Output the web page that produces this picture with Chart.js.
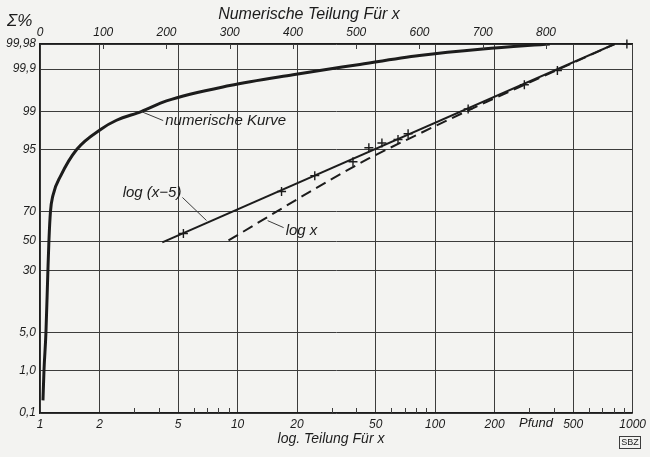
<!DOCTYPE html>
<html>
<head>
<meta charset="utf-8">
<script src="https://cdn.jsdelivr.net/npm/chart.js@4.4.1/dist/chart.umd.min.js"></script>
<style>
  html, body { margin: 0; padding: 0; background: #f3f3f1; }
  #wrap { width: 650px; height: 457px; }
</style>
</head>
<body>
<div id="wrap"><canvas id="chart" width="650" height="457"></canvas></div>
<script>
// ── Data ──────────────────────────────────────────────────────
// numerische Kurve: x on the numeric (top) scale, cumulative %
const numX   = [4.7, 6.3, 9.4, 12.5, 14.1, 16.5, 20.4, 32.9, 58, 97, 121, 160, 200, 300, 400, 500, 600, 700, 806];
const numPct = [0.21, 1, 5, 30, 50, 70, 79.3, 88.0, 95, 97.8, 98.5, 99, 99.41, 99.74, 99.86, 99.922, 99.957, 99.972, 99.98];

// log(x-5) straight line (log scale, Pfund)
const logX5X   = [4.16, 811];
const logX5Pct = [49, 99.98];

// log x dashed line
const logXX   = [9.0, 29.6, 46.2, 84.9, 135.5, 811];
const logXPct = [50.4, 86.5, 93.1, 97.4, 98.89, 99.98];

// measured points (+)
const ptsX   = [5.32, 16.7, 24.6, 38.4, 46.2, 53.8, 64.9, 73, 147, 283, 416, 935];
const ptsPct = [55.4, 81.3, 88.0, 92.3, 95.3, 96.1, 96.6, 97.3, 99.12, 99.75, 99.89, 99.98];

// axes
const yTickPct    = [0.1, 1, 5, 30, 50, 70, 95, 99, 99.9, 99.98];
const yTickLabels = ['0,1', '1,0', '5,0', '30', '50', '70', '95', '99', '99,9', '99,98'];
const xTickVals   = [1, 2, 5, 10, 20, 50, 100, 200, 500, 1000];
const xMinorVals  = [3, 4, 6, 7, 8, 9, 30, 40, 60, 70, 80, 90, 300, 400, 600, 700, 800, 900];
const topTickVals = [0, 100, 200, 300, 400, 500, 600, 700, 800];

// ── Probability scale helper (inverse normal CDF, Acklam) ─────
function probit(p) {
    const a = [-3.969683028665376e+01, 2.209460984245205e+02, -2.759285104469687e+02, 1.383577518672690e+02, -3.066479806614716e+01, 2.506628277459239e+00];
    const b = [-5.447609879822406e+01, 1.615858368580409e+02, -1.556989798598866e+02, 6.680131188771972e+01, -1.328068155288572e+01];
    const c = [-7.784894002430293e-03, -3.223964580411365e-01, -2.400758277161838e+00, -2.549732539343734e+00, 4.374664141464968e+00, 2.938163982698783e+00];
    const d = [7.784695709041462e-03, 3.224671290700398e-01, 2.445134137142996e+00, 3.754408661907416e+00];
    const pl = 0.02425;
    let q, r;
    if (p < pl) {
        q = Math.sqrt(-2 * Math.log(p));
        return (((((c[0]*q+c[1])*q+c[2])*q+c[3])*q+c[4])*q+c[5]) / ((((d[0]*q+d[1])*q+d[2])*q+d[3])*q+1);
    }
    if (p <= 1 - pl) {
        q = p - 0.5; r = q * q;
        return (((((a[0]*r+a[1])*r+a[2])*r+a[3])*r+a[4])*r+a[5])*q / (((((b[0]*r+b[1])*r+b[2])*r+b[3])*r+b[4])*r+1);
    }
    q = Math.sqrt(-2 * Math.log(1 - p));
    return -(((((c[0]*q+c[1])*q+c[2])*q+c[3])*q+c[4])*q+c[5]) / ((((d[0]*q+d[1])*q+d[2])*q+d[3])*q+1);
}
const toPts = (xs, ps) => xs.map((x, i) => ({ x: x, y: probit(ps[i] / 100) }));

const INK   = '#1c1c1c';
const GRID  = '#3c3c3c';
const FONT  = '"Liberation Sans", "DejaVu Sans", sans-serif';
const Y_MIN = probit(yTickPct[0] / 100);
const Y_MAX = probit(yTickPct[yTickPct.length - 1] / 100);

// ── Extra drawing: paper, minor ticks, titles, labels ─────────
const paperPlugin = {
    id: 'paper',
    beforeDraw(chart) {
        const ctx = chart.ctx;
        ctx.save();
        ctx.fillStyle = '#f3f3f1';
        ctx.fillRect(0, 0, chart.width, chart.height);
        ctx.restore();
    }
};

const extrasPlugin = {
    id: 'extras',
    afterDraw(chart) {
        const ctx = chart.ctx;
        const a = chart.chartArea;
        const sx = chart.scales.x, sx2 = chart.scales.x2, sy = chart.scales.y;
        ctx.save();
        ctx.strokeStyle = GRID;
        ctx.lineWidth = 1;
        // minor ticks on the log axis (inside, from bottom)
        xMinorVals.forEach(v => {
            const px = Math.round(sx.getPixelForValue(v)) + 0.5;
            ctx.beginPath(); ctx.moveTo(px, a.bottom); ctx.lineTo(px, a.bottom - 5); ctx.stroke();
        });
        // numeric scale ticks (inside, from top)
        topTickVals.slice(1).forEach(v => {
            const px = Math.round(sx2.getPixelForValue(v)) + 0.5;
            ctx.beginPath(); ctx.moveTo(px, a.top); ctx.lineTo(px, a.top + 5); ctx.stroke();
        });

        ctx.fillStyle = INK;
        ctx.textBaseline = 'middle';
        // titles
        ctx.textAlign = 'center';
        ctx.font = 'italic 16px ' + FONT;
        ctx.fillText('Numerische Teilung Für x', 309, 15);
        ctx.font = 'italic 14px ' + FONT;
        ctx.fillText('log. Teilung Für x', 331, 439);
        ctx.font = 'italic 13px ' + FONT;
        ctx.fillText('Pfund', 536, 423);
        ctx.textAlign = 'left';
        ctx.font = 'italic 17px ' + FONT;
        ctx.fillText('Σ%', 7, 21);

        // SBZ stamp
        ctx.font = '9px ' + FONT;
        ctx.textAlign = 'center';
        ctx.strokeRect(619.5, 436.5, 21, 12);
        ctx.fillText('SBZ', 630, 443);

        // curve labels with leader lines
        const lbl = (text, ax, ay, tx, ty, lx, ly) => {
            ctx.beginPath(); ctx.moveTo(ax, ay); ctx.lineTo(lx, ly); ctx.stroke();
            ctx.font = 'italic 15px ' + FONT;
            ctx.textAlign = 'left';
            ctx.fillText(text, tx, ty);
        };
        const p1x = sx2.getPixelForValue(160), p1y = sy.getPixelForValue(probit(0.99));
        lbl('numerische Kurve', p1x, p1y, p1x + 24, p1y + 9, p1x + 22, p1y + 9);
        const p2x = sx.getPixelForValue(6.96), p2y = sy.getPixelForValue(probit(0.644));
        ctx.beginPath(); ctx.moveTo(p2x, p2y); ctx.lineTo(p2x - 24, p2y - 23); ctx.stroke();
        ctx.font = 'italic 15px ' + FONT;
        ctx.textAlign = 'right';
        ctx.fillText('log (x−5)', p2x - 25, p2y - 28);
        const p3x = sx.getPixelForValue(14.2), p3y = sy.getPixelForValue(probit(0.643));
        lbl('log x', p3x, p3y, p3x + 18, p3y + 10, p3x + 16, p3y + 7);
        ctx.restore();
    }
};

// ── Chart ─────────────────────────────────────────────────────
Chart.defaults.font.family = FONT;
Chart.defaults.color = INK;

new Chart(document.getElementById('chart'), {
    type: 'line',
    data: {
        datasets: [
            {
                label: 'numerische Kurve',
                xAxisID: 'x2',
                data: toPts(numX, numPct),
                borderColor: INK,
                borderWidth: 3,
                pointRadius: 0,
                cubicInterpolationMode: 'monotone'
            },
            {
                label: 'log (x-5)',
                data: toPts(logX5X, logX5Pct),
                borderColor: INK,
                borderWidth: 2,
                pointRadius: 0
            },
            {
                label: 'log x',
                data: toPts(logXX, logXPct),
                borderColor: INK,
                borderWidth: 2,
                borderDash: [11, 6],
                pointRadius: 0,
                cubicInterpolationMode: 'monotone'
            },
            {
                label: 'Messpunkte',
                data: toPts(ptsX, ptsPct),
                showLine: false,
                pointStyle: 'cross',
                pointRadius: 4.5,
                pointBorderWidth: 1.4,
                pointBorderColor: INK,
                clip: false
            }
        ]
    },
    options: {
        responsive: false,
        animation: false,
        layout: { padding: { left: 0, right: 12, top: 0, bottom: 0 } },
        plugins: { legend: { display: false }, tooltip: { enabled: false } },
        scales: {
            x: {
                type: 'logarithmic',
                position: 'bottom',
                min: 1, max: 1000,
                afterBuildTicks: s => { s.ticks = xTickVals.map(v => ({ value: v })); },
                afterFit: s => { s.height = 44; },
                ticks: {
                    autoSkip: false, maxRotation: 0, padding: 4,
                    font: { size: 12, style: 'italic' },
                    callback: v => String(v)
                },
                grid: { color: GRID, lineWidth: 1, drawTicks: false },
                border: { color: INK, width: 1.2 }
            },
            x2: {
                type: 'linear',
                position: 'top',
                min: 0, max: 937,
                afterBuildTicks: s => { s.ticks = topTickVals.map(v => ({ value: v })); },
                afterFit: s => { s.height = 44; },
                ticks: {
                    autoSkip: false, maxRotation: 0, padding: 4,
                    font: { size: 12, style: 'italic' }
                },
                grid: { drawOnChartArea: false, drawTicks: false },
                border: { color: INK, width: 1.2 }
            },
            y: {
                type: 'linear',
                min: Y_MIN, max: Y_MAX,
                afterBuildTicks: s => { s.ticks = yTickPct.map(p => ({ value: probit(p / 100) })); },
                afterFit: s => { s.width = 40; },
                ticks: {
                    autoSkip: false, padding: 4,
                    font: { size: 12, style: 'italic' },
                    callback: (v, i) => yTickLabels[i]
                },
                grid: { color: GRID, lineWidth: 1, drawTicks: false },
                border: { color: INK, width: 1.2 }
            }
        }
    },
    plugins: [paperPlugin, extrasPlugin]
});
</script>
</body>
</html>
